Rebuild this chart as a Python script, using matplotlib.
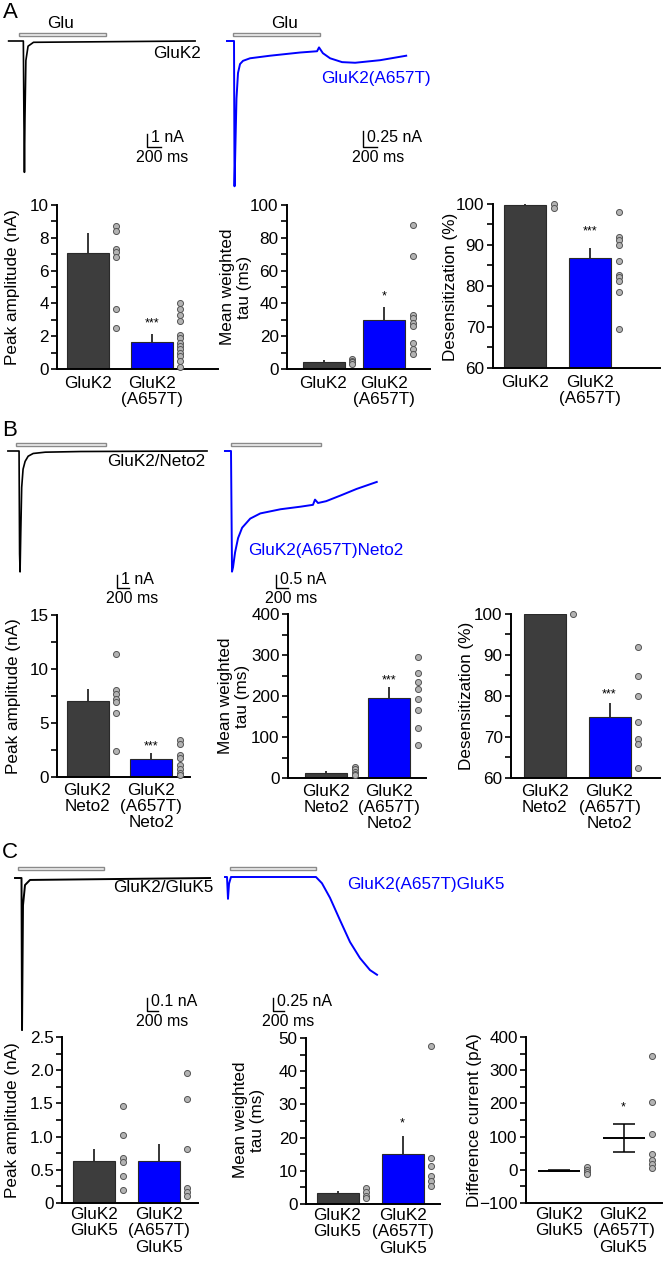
import numpy as np
import matplotlib
matplotlib.use("Agg")
import matplotlib.pyplot as plt
from matplotlib.patches import Rectangle
from matplotlib.ticker import MultipleLocator, FuncFormatter

plt.rcParams['font.family'] = ['Liberation Sans', 'DejaVu Sans']

# ---------------- data ----------------
# Panel A bar data
A_amp_mean = [7.1, 1.66]
A_amp_sem = [1.22, 0.46]
A_amp_wt = [8.73, 8.41, 7.31, 7.14, 6.8, 3.67, 2.49]
A_amp_mut = [4.04, 3.65, 3.3, 2.9, 2.1, 1.9, 1.6, 1.4, 1.2, 1.0, 0.8, 0.5, 0.1]
A_tau_mean = [4.4, 30.0]
A_tau_sem = [1.0, 8.0]
A_tau_wt = [6.0, 5.0, 4.5, 4.0, 3.0]
A_tau_mut = [88, 69, 33, 31, 28, 26, 16, 12, 9]
A_des_mean = [99.75, 86.9]
A_des_sem = [0.5, 2.3]
A_des_wt = [99.9, 99.0]
A_des_mut = [98.1, 91.9, 91.1, 90.0, 86.1, 82.8, 82.3, 81.3, 78.6, 69.5]

# Panel B bar data
B_amp_mean = [7.07, 1.7]
B_amp_sem = [1.05, 0.5]
B_amp_wt = [11.4, 8.05, 7.65, 7.2, 6.9, 5.9, 2.4]
B_amp_mut = [3.4, 3.1, 2.0, 1.8, 1.1, 0.7, 0.4, 0.2]
B_tau_mean = [12, 194]
B_tau_sem = [4, 27]
B_tau_wt = [28, 22, 15, 10, 8]
B_tau_mut = [296, 255, 235, 216, 192, 166, 123, 80]
B_des_mean = [99.9, 74.8]
B_des_sem = [0.4, 3.6]
B_des_wt = [99.9]
B_des_mut = [92.0, 84.9, 80.0, 73.6, 69.4, 68.2, 62.4]

# Panel C bar data
C_amp_mean = [0.635, 0.635]
C_amp_sem = [0.175, 0.26]
C_amp_wt = [1.46, 1.02, 0.685, 0.61, 0.41, 0.2]
C_amp_mut = [1.96, 1.56, 0.82, 0.22, 0.17, 0.11]
C_tau_mean = [3.2, 15.0]
C_tau_sem = [0.6, 5.5]
C_tau_wt = [4.8, 3.5, 2.5, 1.7]
C_tau_mut = [47.5, 14.0, 11.5, 8.5, 7.0, 5.3]
C_diff_mean = [-3, 96]
C_diff_sem = [2, 43]
C_diff_wt = [7, 0, -8, -13]
C_diff_mut = [342, 205, 108, 48, 30, 18, 5]

labels_A = ["GluK2", "GluK2\n(A657T)"]
labels_B = ["GluK2\nNeto2", "GluK2\n(A657T)\nNeto2"]
labels_C = ["GluK2\nGluK5", "GluK2\n(A657T)\nGluK5"]

# Example current traces (time in ms, current in nA)
trA1_t = [-143, 60, 68, 75, 82, 95, 125, 200, 2430]
trA1_i = [0, 0, -6.0, -10.1, -6.0, -1.5, -0.4, -0.1, 0]
trA2_t = [-83, -21, 14, 21, 34, 48, 69, 97, 138, 235, 510, 925, 1160, 1187, 1240, 1340, 1505, 1685, 2030, 2390]
trA2_i = [0, 0, 0, -2.27, -1.6, -0.9, -0.5, -0.36, -0.31, -0.27, -0.23, -0.18, -0.16, -0.10, -0.19, -0.27, -0.33, -0.34, -0.30, -0.23]
trB1_t = [-135, 51, 60, 68, 80, 95, 118, 152, 203, 287, 490, 1080, 3190]
trB1_i = [0, 0, -7.9, -9.3, -6.2, -2.8, -1.4, -0.8, -0.4, -0.19, -0.09, -0.04, 0]
trB2_t = [-101, 0, 17, 34, 68, 118, 186, 321, 490, 828, 1166, 1369, 1403, 1453, 1589, 1842, 2096, 2434]
trB2_i = [0, 0, -4.64, -4.47, -3.90, -3.35, -2.95, -2.60, -2.40, -2.24, -2.14, -2.07, -1.87, -2.00, -1.93, -1.70, -1.46, -1.19]
trC1_t = [-52, 61, 70, 87, 122, 209, 3341]
trC1_i = [0, 0, -1.17, -0.21, -0.054, -0.015, 0]
trC2_t = [-87, -52, -35, -17, 17, 1496, 1600, 1740, 1914, 2088, 2262, 2436, 2558]
trC2_i = [0, 0, -0.42, -0.13, 0, 0, -0.12, -0.40, -0.83, -1.25, -1.56, -1.79, -1.88]

glu_A = 1200
glu_B = 1500
glu_C = 1500

# ---------------- figure ----------------
W, H = 664, 1268
fig = plt.figure(figsize=(W / 100, H / 100), dpi=100)
FS = 12.3
BLUE = '#0000ff'
DARK = '#3d3d3d'


def px_axes(L, T, R, B):
    return fig.add_axes([L / W, 1 - B / H, (R - L) / W, (B - T) / H])


def ftext(px, py, s, **kw):
    fig.text(px / W, 1 - py / H, s, **kw)


def bar_panel(L, R, T, B, c0, s, ylim, major, minor, means, sems, wt, mut,
              xlabels, pad, star=None, style='bar', fmt=None):
    ax = px_axes(L, T, R, B)
    ax.set_xlim((L - c0) / s, (R - c0) / s)
    ax.set_ylim(*ylim)
    w = 42 / s
    off = 28.5 / s
    xs = [0, 1]
    if style == 'bar':
        ax.bar(xs, means, width=w, color=[DARK, BLUE], edgecolor='#2a2a2a',
               linewidth=0.8, zorder=2)
        ax.errorbar(xs, means, yerr=[[0, 0], sems], fmt='none', ecolor='black',
                    elinewidth=1.1, capsize=0, zorder=1)
    else:
        ax.hlines(means, [x - w / 2 for x in xs], [x + w / 2 for x in xs],
                  color='black', lw=1.4, zorder=2)
        ax.errorbar(xs, means, yerr=sems, fmt='none', ecolor='black',
                    elinewidth=1.1, capsize=8, capthick=1.1, zorder=2)
    for x, d in zip(xs, [wt, mut]):
        ax.scatter(np.full(len(d), x + off), d, s=19, facecolor='#b3b3b3',
                   edgecolor='#555555', linewidth=0.7, zorder=3, clip_on=False)
    if star is not None:
        ax.text(1, star[1], star[0], ha='center', va='center', fontsize=9)
    for sp in ['top', 'right']:
        ax.spines[sp].set_visible(False)
    ax.spines['left'].set_linewidth(1.4)
    ax.spines['bottom'].set_linewidth(1.4)
    ax.yaxis.set_major_locator(MultipleLocator(major))
    ax.yaxis.set_minor_locator(MultipleLocator(minor))
    ax.tick_params(axis='y', which='major', length=4.5, width=1.2, labelsize=FS, pad=1.5)
    ax.tick_params(axis='y', which='minor', length=4.5, width=1.2)
    ax.set_xticks(xs)
    ax.set_xticklabels(xlabels, fontsize=FS, linespacing=1.1)
    ax.tick_params(axis='x', length=0, pad=pad)
    if fmt:
        ax.yaxis.set_major_formatter(FuncFormatter(fmt))
    return ax


def vlabel(px, py, s):
    ftext(px, py, s, rotation=90, ha='center', va='center', fontsize=FS,
          multialignment='center', linespacing=1.1)


# ---- Panel A bars ----
bar_panel(57, 218, 205, 369, 88, 64, (0, 10), 2, 1, A_amp_mean, A_amp_sem,
          A_amp_wt, A_amp_mut, labels_A, 5, star=('***', 2.8))
vlabel(13, 287, "Peak amplitude (nA)")
bar_panel(287, 430, 205, 369, 323.5, 60.5, (0, 100), 20, 10, A_tau_mean, A_tau_sem,
          A_tau_wt, A_tau_mut, labels_A, 5, star=('*', 44))
vlabel(236, 287, "Mean weighted\ntau (ms)")
bar_panel(493, 660, 204, 368, 525, 65, (60, 100), 10, 5, A_des_mean, A_des_sem,
          A_des_wt, A_des_mut, labels_A, 5, star=('***', 93.3))
vlabel(450, 287, "Desensitization (%)")

# ---- Panel B bars ----
bar_panel(57, 190, 615, 777, 87.5, 63.5, (0, 15), 5, 2.5, B_amp_mean, B_amp_sem,
          B_amp_wt, B_amp_mut, labels_B, 4, star=('***', 2.8))
vlabel(14, 696, "Peak amplitude (nA)")
bar_panel(288, 426, 614, 778, 326, 63, (0, 400), 100, 50, B_tau_mean, B_tau_sem,
          B_tau_wt, B_tau_mut, labels_B, 4, star=('***', 239))
vlabel(234, 696, "Mean weighted\ntau (ms)")
bar_panel(511, 660, 614, 778, 544.5, 65, (60, 100), 10, 5, B_des_mean, B_des_sem,
          B_des_wt, B_des_mut, labels_B, 4, star=('***', 80.4))
vlabel(467, 696, "Desensitization (%)")

# ---- Panel C bars ----
fmtC = lambda v, p: "0" if abs(v) < 1e-9 else f"{v:.1f}"
bar_panel(62, 198, 1037, 1203, 94, 64.5, (0, 2.5), 0.5, 0.25, C_amp_mean, C_amp_sem,
          C_amp_wt, C_amp_mut, labels_C, 3, fmt=fmtC)
vlabel(13, 1120, "Peak amplitude (nA)")
bar_panel(306, 440, 1038, 1204, 337.5, 65, (0, 50), 10, 5, C_tau_mean, C_tau_sem,
          C_tau_wt, C_tau_mut, labels_C, 3, star=('*', 24.3))
vlabel(249, 1120, "Mean weighted\ntau (ms)")
bar_panel(526, 662, 1037, 1203, 558.5, 65, (-100, 400), 100, 50, C_diff_mean, C_diff_sem,
          C_diff_wt, C_diff_mut, labels_C, 3, star=('*', 188), style='mean')
vlabel(474, 1120, "Difference current (pA)")


# ---------------- traces ----------------
def trace_panel(box, t0, base, ms_px, nA_px, t, i, color, glu, glu_off, sb_corner, sb_amp, sb_text,
                lw=1.2, txt_dx=(4, 15)):
    L, T, R, B = box
    ax = px_axes(L, T, R, B)
    ax.set_xlim((L - t0) * ms_px, (R - t0) * ms_px)
    ax.set_ylim((base - B) * nA_px, (base - T) * nA_px)
    ax.axis('off')
    ax.plot(t, i, color=color, lw=lw, solid_joinstyle='round')
    # Glu application bar
    h = 3 * nA_px
    ax.add_patch(Rectangle((0, glu_off * nA_px - h / 2), glu, h, facecolor='#f2f2f2',
                           edgecolor='#8a8a8a', lw=1.0))
    # scale bar
    cx, cy = sb_corner
    tx = (cx - t0) * ms_px
    iy = (base - cy) * nA_px
    ax.plot([tx, tx, tx + 200], [iy + sb_amp, iy, iy], color='black', lw=1.0,
            clip_on=False)
    ftext(cx + txt_dx[0], cy - 9, sb_text, ha='left', va='center', fontsize=11.5)
    ftext(cx + txt_dx[1], cy + 11, "200 ms", ha='center', va='center', fontsize=11.5)
    return ax


# Panel A traces
trace_panel((0, 15, 222, 195), 19, 41, 13.8, 1 / 13, trA1_t, trA1_i, 'black', glu_A, 7,
            (147, 147), 1, "1 nA")
trace_panel((222, 15, 440, 195), 233, 41, 13.8, 0.25 / 16, trA2_t, trA2_i, BLUE, glu_A, 7,
            (363, 147), 0.25, "0.25 nA", lw=1.4)
ftext(61, 24, "Glu", ha='center', va='center', fontsize=FS)
ftext(285, 24, "Glu", ha='center', va='center', fontsize=FS)
ftext(201, 53, "GluK2", ha='right', va='center', fontsize=FS)
ftext(321, 78, "GluK2(A657T)", ha='left', va='center', fontsize=FS, color=BLUE)

# Panel B traces
trace_panel((0, 430, 215, 612), 16, 451, 16.7, 1 / 13, trB1_t, trB1_i, 'black', glu_B, 7,
            (117, 588), 1, "1 nA")
trace_panel((215, 430, 400, 612), 231, 451, 16.7, 0.5 / 13, trB2_t, trB2_i, BLUE, glu_B, 7,
            (276, 588), 0.5, "0.5 nA", lw=1.4)
ftext(205, 461, "GluK2/Neto2", ha='right', va='center', fontsize=FS)
ftext(248, 550, "GluK2(A657T)Neto2", ha='left', va='center', fontsize=FS, color=BLUE)

# Panel C traces
trace_panel((0, 855, 220, 1040), 18, 878, 17.4, 0.1 / 13, trC1_t, trC1_i, 'black', glu_C, 10,
            (147, 1011), 0.1, "0.1 nA", lw=1.4)
trace_panel((220, 855, 400, 1040), 230, 877, 17.4, 0.25 / 13, trC2_t, trC2_i, BLUE, glu_C, 9,
            (273, 1011), 0.25, "0.25 nA", lw=1.4)
ftext(213, 888, "GluK2/GluK5", ha='right', va='center', fontsize=FS)
ftext(347, 884, "GluK2(A657T)GluK5", ha='left', va='center', fontsize=FS, color=BLUE)

# panel letters
ftext(3, 13, "A", ha='left', va='center', fontsize=16)
ftext(2, 430, "B", ha='left', va='center', fontsize=16)
ftext(2, 852, "C", ha='left', va='center', fontsize=16)

fig.savefig("out.png", dpi=100)
